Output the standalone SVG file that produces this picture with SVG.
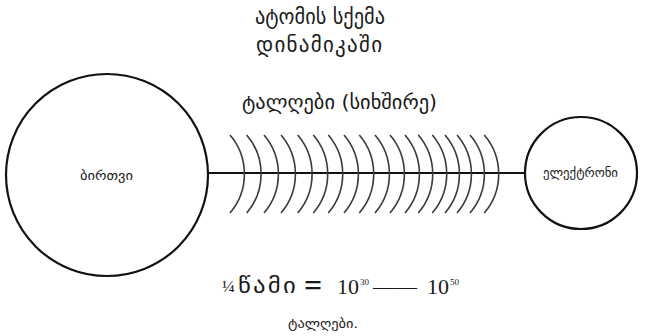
<svg xmlns="http://www.w3.org/2000/svg" width="645" height="336" viewBox="0 0 645 336">
  <style>
    .geo { font-family: "DejaVu Sans", "Noto Sans", sans-serif; fill: #1a1a1a; }
    .num { font-family: "Liberation Serif", "DejaVu Serif", serif; fill: #1a1a1a; }
    .node { fill: #ffffff; stroke: #111111; stroke-width: 2.2; }
    .link { stroke: #111111; stroke-width: 2.2; fill: none; }
    .wave { stroke: #3a3a3a; stroke-width: 1.6; fill: none; }
  </style>
  <defs>
    <path id="arc" d="M0,135 A60,60 0 0 1 0,213"/>
  </defs>
  <rect width="645" height="336" fill="#ffffff"/>

  <g id="title">
    <text class="geo" x="255" y="24" font-size="21" textLength="130" lengthAdjust="spacingAndGlyphs">ატომის სქემა</text>
    <text class="geo" x="256" y="52" font-size="21" textLength="126" lengthAdjust="spacing">დინამიკაში</text>
  </g>

  <g id="waves-label">
    <text class="geo" x="242" y="109" font-size="19" textLength="195" lengthAdjust="spacingAndGlyphs">ტალღები (სიხშირე)</text>
  </g>

  <g id="connectors">
    <line class="link" x1="208" y1="173" x2="525" y2="173"/>
  </g>

  <g id="waves">
    <use href="#arc" class="wave" x="230"/>
    <use href="#arc" class="wave" x="246.7"/>
    <use href="#arc" class="wave" x="264"/>
    <use href="#arc" class="wave" x="281"/>
    <use href="#arc" class="wave" x="297.7"/>
    <use href="#arc" class="wave" x="313.3"/>
    <use href="#arc" class="wave" x="328.3"/>
    <use href="#arc" class="wave" x="344"/>
    <use href="#arc" class="wave" x="359.3"/>
    <use href="#arc" class="wave" x="375"/>
    <use href="#arc" class="wave" x="390"/>
    <use href="#arc" class="wave" x="405"/>
    <use href="#arc" class="wave" x="418.3"/>
    <use href="#arc" class="wave" x="432.3"/>
    <use href="#arc" class="wave" x="445"/>
    <use href="#arc" class="wave" x="457"/>
    <use href="#arc" class="wave" x="470"/>
    <use href="#arc" class="wave" x="484.3"/>
  </g>

  <g id="nucleus">
    <circle class="node" cx="107" cy="175" r="101"/>
    <text class="geo" x="80" y="180" font-size="13" textLength="53" lengthAdjust="spacingAndGlyphs">ბირთვი</text>
  </g>

  <g id="electron">
    <circle class="node" cx="581" cy="173" r="56"/>
    <text class="geo" x="543" y="177" font-size="13" textLength="75" lengthAdjust="spacingAndGlyphs">ელექტრონი</text>
  </g>

  <g id="formula">
    <text class="num" x="222" y="292" font-size="17">¼</text>
    <text class="geo" x="238" y="293" font-size="22" letter-spacing="2" textLength="60" lengthAdjust="spacingAndGlyphs">წამი</text>
    <text class="num" x="304" y="296" font-size="32" font-weight="bold">=</text>
    <text class="num" x="337" y="294" font-size="22">10</text>
    <text class="num" x="360" y="285" font-size="9">30</text>
    <text class="num" x="373" y="294" font-size="22">——</text>
    <text class="num" x="427" y="294" font-size="22">10</text>
    <text class="num" x="450" y="285" font-size="9">50</text>
    <text class="geo" x="288" y="328" font-size="12" textLength="70" lengthAdjust="spacingAndGlyphs">ტალღები.</text>
  </g>
</svg>
